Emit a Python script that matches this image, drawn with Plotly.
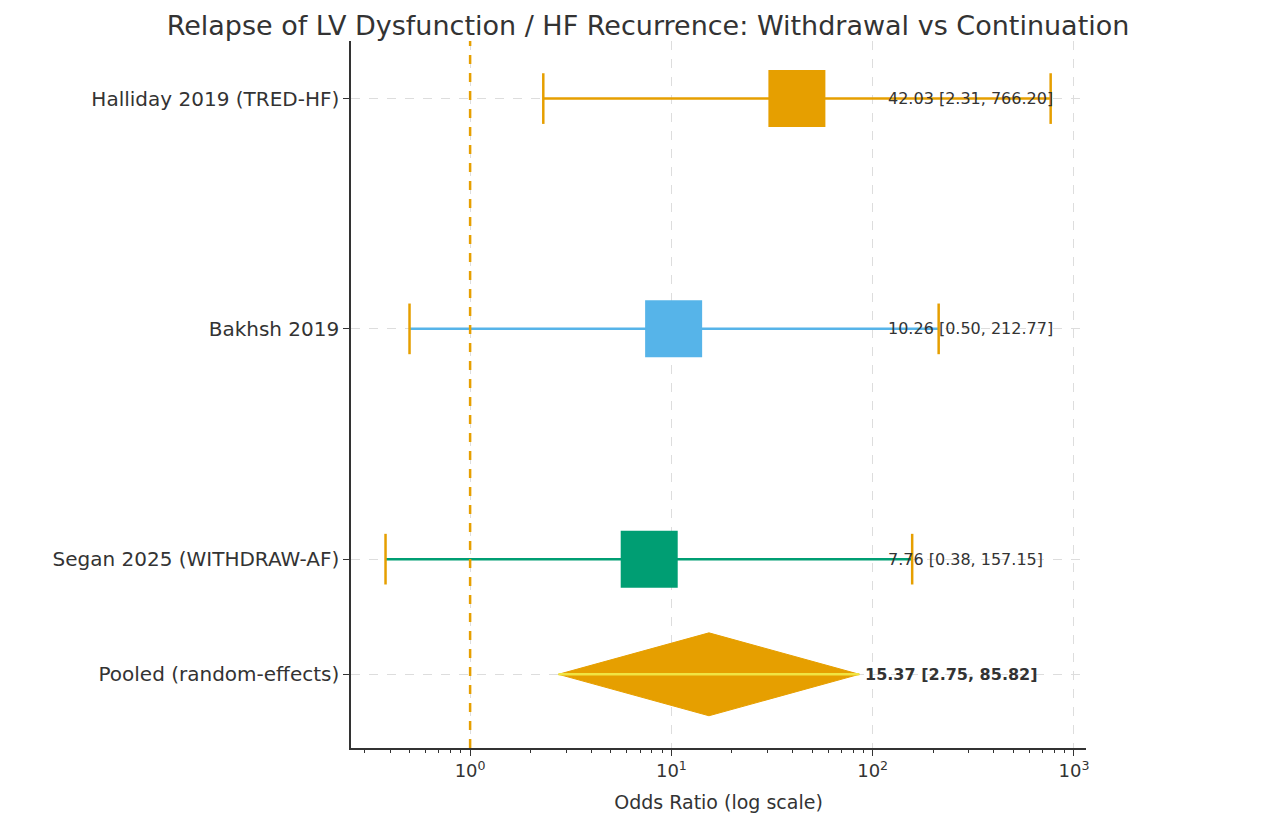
import plotly.graph_objects as go
import numpy as np

studies = ["Halliday 2019 (TRED-HF)", "Bakhsh 2019", "Segan 2025 (WITHDRAW-AF)"]
ypos = [3, 2, 1]
est = [42.03, 10.26, 7.76]
lo = [2.31, 0.50, 0.38]
hi = [766.20, 212.77, 157.15]
colors = ["#E69F00", "#56B4E9", "#009E73"]
pooled_label = "Pooled (random-effects)"
pooled_y = 0.5
pooled = [15.37, 2.75, 85.82]

fig = go.Figure()
for s, y, e, l, h, c in zip(studies, ypos, est, lo, hi, colors):
    fig.add_trace(go.Scatter(x=[l, h], y=[y, y], mode="lines", line=dict(color=c, width=2.5), showlegend=False))
    for xv in (l, h):
        fig.add_trace(go.Scatter(x=[xv, xv], y=[y - 0.11, y + 0.11], mode="lines",
                                 line=dict(color="#E69F00", width=2.5), showlegend=False))
    fig.add_trace(go.Scatter(x=[e], y=[y], mode="markers",
                             marker=dict(symbol="square", size=57, color=c), showlegend=False))
    fig.add_annotation(x=np.log10(116), y=y, xref="x", yref="y", xanchor="left",
                       text=f"{e:.2f} [{l:.2f}, {h:.2f}]", showarrow=False,
                       font=dict(size=16, color="#333"))

pe, pl, ph = pooled
hh = 0.18
fig.add_trace(go.Scatter(x=[pl, pe, ph, pe, pl], y=[pooled_y, pooled_y + hh, pooled_y, pooled_y - hh, pooled_y],
                         mode="lines", fill="toself", fillcolor="#E69F00", line=dict(color="#E69F00", width=1),
                         showlegend=False))
fig.add_trace(go.Scatter(x=[pl, ph], y=[pooled_y, pooled_y], mode="lines",
                         line=dict(color="#F0E442", width=2.5), showlegend=False))
fig.add_annotation(x=np.log10(ph) + 0.02, y=pooled_y, xref="x", yref="y", xanchor="left",
                   text=f"<b>{pe:.2f} [{pl:.2f}, {ph:.2f}]</b>", showarrow=False,
                   font=dict(size=16, color="#333"))

fig.add_trace(go.Scatter(x=[1, 1], y=[0.18, 3.25], mode="lines",
                         line=dict(color="#E69F00", width=2.5, dash="dash"), showlegend=False))

minor_vals = [m * 10.0 ** d for d in range(-1, 3) for m in range(2, 10)]

fig.update_layout(
    width=1280, height=814, paper_bgcolor="white", plot_bgcolor="white",
    margin=dict(l=343, r=202, t=33, b=67),
    title=dict(text="Relapse of LV Dysfunction / HF Recurrence: Withdrawal vs Continuation",
               x=0.5, xanchor="center", y=0.99, yanchor="top", font=dict(size=27, color="#333")),
    font=dict(family="DejaVu Sans", color="#333"),
    xaxis=dict(type="log", range=[np.log10(0.256), np.log10(1148)],
               tickvals=[1, 10, 100, 1000],
               ticktext=["10<sup>0</sup>", "10<sup>1</sup>", "10<sup>2</sup>", "10<sup>3</sup>"],
               ticks="outside", ticklen=6, tickcolor="#333", tickfont=dict(size=18),
               minor=dict(tickvals=minor_vals, ticks="outside", ticklen=3, tickcolor="#333", showgrid=False),
               showgrid=True, gridcolor="#ddd", griddash="dash", zeroline=False,
               showline=True, linecolor="#333", linewidth=1.5,
               title=dict(text="Odds Ratio (log scale)", font=dict(size=19))),
    yaxis=dict(range=[0.18, 3.25], tickvals=ypos + [pooled_y], ticktext=studies + [pooled_label],
               ticks="outside", ticklen=6, tickcolor="#333", tickfont=dict(size=20),
               showgrid=True, gridcolor="#ddd", griddash="dash", zeroline=False,
               showline=True, linecolor="#333", linewidth=1.5),
)
fig.write_html("out.html")
